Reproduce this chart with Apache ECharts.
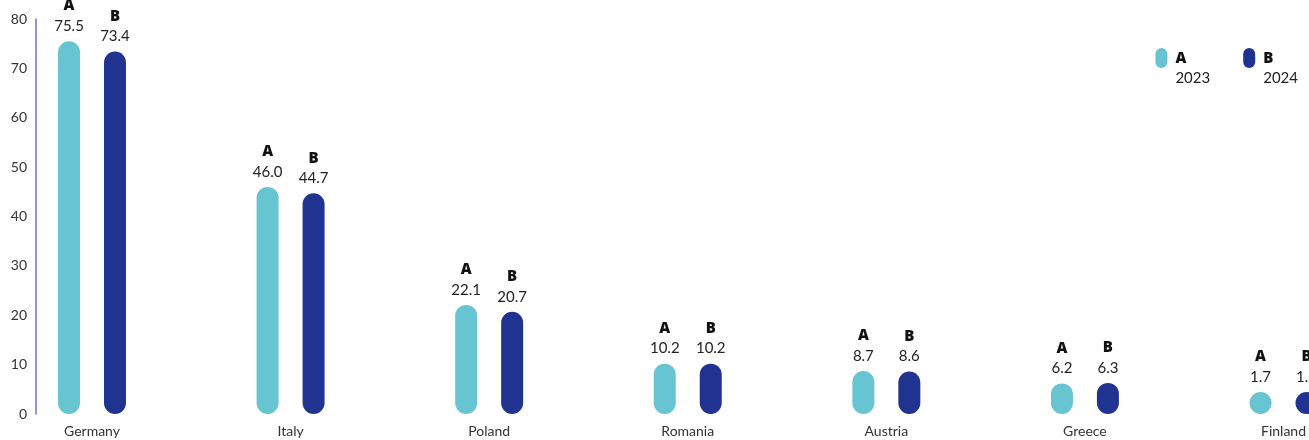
<!DOCTYPE html>
<html>
<head>
<meta charset="utf-8">
<script src="https://cdn.jsdelivr.net/npm/echarts@6/dist/echarts.min.js"></script>
<style>
  html, body { margin: 0; padding: 0; background: #ffffff; }
  #chart { width: 1309px; height: 440px; }
</style>
</head>
<body>
<div id="chart"></div>
<script>
// Countries shown along the x axis
const countries = ['Germany', 'Italy', 'Poland', 'Romania', 'Austria', 'Greece', 'Finland'];
// Series A (2023) and B (2024)
const seriesA = [75.5, 46.0, 22.1, 10.2, 8.7, 6.2, 1.7];
const seriesB = [73.4, 44.7, 20.7, 10.2, 8.6, 6.3, 1.8];
const seriesNames = ['A', 'B'];
const seriesYears = ['2023', '2024'];
// Value axis ticks
const yMin = 0;
const yMax = 80;
const yStep = 10;

const colorA = '#67c5d1';
const colorB = '#213391';
const fontFamily = 'Lato, "Noto Sans", sans-serif';
const boldFamily = '"Noto Sans", Lato, sans-serif';

const pill = 'path://M6,0 A6,6 0 0 1 12,6 L12,14 A6,6 0 0 1 0,14 L0,6 A6,6 0 0 1 6,0 Z';

function makeSeries(name, values, color) {
  return {
    name: name,
    type: 'bar',
    data: values,
    barWidth: 22,
    barGap: '109%',
    barMinHeight: 22,
    itemStyle: { color: color, borderRadius: 11 },
    label: {
      show: true,
      position: 'top',
      distance: 5,
      formatter: function (p) {
        return '{k|' + name + '}\n{v|' + p.value.toFixed(1) + '}';
      },
      rich: {
        k: { fontFamily: boldFamily, fontSize: 15, fontWeight: 900, color: '#111', lineHeight: 20, align: 'center' },
        v: { fontFamily: fontFamily, fontSize: 15, color: '#222', lineHeight: 20, align: 'center' }
      }
    }
  };
}

const chart = echarts.init(document.getElementById('chart'));
chart.setOption({
  animation: false,
  backgroundColor: '#ffffff',
  grid: { left: 92, right: 23, top: 19, bottom: 26, containLabel: false },
  legend: {
    orient: 'horizontal',
    right: 11,
    top: 48,
    padding: 0,
    itemWidth: 12,
    itemHeight: 20,
    itemGap: 33,
    icon: pill,
    data: seriesNames,
    formatter: function (name) {
      return '{k|' + name + '}\n{y|' + seriesYears[seriesNames.indexOf(name)] + '}';
    },
    textStyle: {
      padding: [21, 0, 0, 3],
      rich: {
        k: { fontFamily: boldFamily, fontSize: 15, fontWeight: 900, color: '#111', lineHeight: 20 },
        y: { fontFamily: fontFamily, fontSize: 15, color: '#222', lineHeight: 20 }
      }
    }
  },
  xAxis: {
    type: 'category',
    data: countries,
    boundaryGap: false,
    axisLine: { show: false },
    axisTick: { show: false },
    axisLabel: { fontFamily: fontFamily, fontSize: 14, color: '#333', margin: 10 }
  },
  yAxis: {
    type: 'value',
    min: yMin,
    max: yMax,
    interval: yStep,
    offset: 56,
    axisLine: { show: true, lineStyle: { color: '#6b76c3', width: 1.5 } },
    axisTick: { show: false },
    splitLine: { show: false },
    axisLabel: { fontFamily: fontFamily, fontSize: 14, color: '#333', margin: 9 }
  },
  series: [
    makeSeries(seriesNames[0], seriesA, colorA),
    makeSeries(seriesNames[1], seriesB, colorB)
  ]
});
</script>
</body>
</html>
